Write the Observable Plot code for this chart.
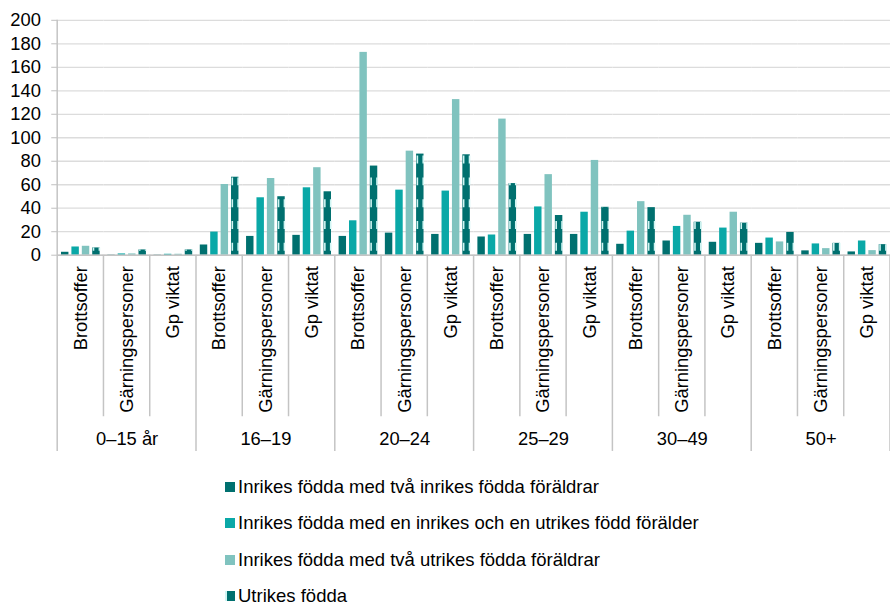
<!DOCTYPE html>
<html><head><meta charset="utf-8">
<script src="https://cdn.jsdelivr.net/npm/d3@7"></script>
<script src="https://cdn.jsdelivr.net/npm/@observablehq/plot@0.6"></script>
<style>
html,body{margin:0;padding:0;background:#fff;overflow:hidden;width:890px;height:605px}
#chart svg{display:block}
#legend{padding-left:225px;padding-top:11px;font-family:"Liberation Sans",Arial,sans-serif;font-size:18.5px;color:#000}
.row{display:flex;align-items:center;height:36.4px;white-space:nowrap}
.sw{width:10px;height:10px;margin-right:3px;flex:none}
</style></head><body><div id="chart"></div><div id="legend"></div>
<script>
const ageGroups = ["0–15 år", "16–19", "20–24", "25–29", "30–49", "50+"];
const subCategories = ["Brottsoffer", "Gärningspersoner", "Gp viktat"];
const seriesNames = [
  "Inrikes födda med två inrikes födda föräldrar",
  "Inrikes födda med en inrikes och en utrikes född förälder",
  "Inrikes födda med två utrikes födda föräldrar",
  "Utrikes födda"
];
// values in order: age group × (Brottsoffer, Gärningspersoner, Gp viktat)
const inrikesTvaInrikes = [2.5, 0.2, 0.2, 8.7, 16.0, 16.9, 16.0, 18.8, 17.7, 15.5, 17.7, 17.7, 9.3, 12.1, 11.0, 10.1, 3.7, 2.8];
const inrikesEnUtrikes  = [7.0, 1.1, 0.8, 19.7, 48.9, 57.4, 29.3, 55.4, 54.6, 17.2, 41.1, 36.6, 20.5, 24.5, 23.1, 14.6, 9.6, 12.1];
const inrikesTvaUtrikes = [7.6, 1.1, 0.8, 60.2, 65.3, 74.5, 172.7, 88.6, 132.5, 115.9, 68.6, 80.7, 45.6, 34.0, 36.6, 11.3, 5.6, 3.9];
const utrikesFodda      = [6.2, 4.5, 4.5, 66.4, 49.8, 54.0, 75.9, 86.1, 85.5, 61.0, 33.8, 40.8, 40.5, 28.1, 27.3, 19.4, 10.1, 9.0];
const yTicks = [0, 20, 40, 60, 80, 100, 120, 140, 160, 180, 200];
const seriesColors = ["#00706F", "#0AA8A7", "#80C3BF", "#00706F"];
const stripeColor = "#D0F5F3";

const seriesValues = [inrikesTvaInrikes, inrikesEnUtrikes, inrikesTvaUtrikes, utrikesFodda];
const keys = [];
const subRows = [];
const ageRows = [];
const rows = [];
ageGroups.forEach((age, a) => {
  subCategories.forEach((sub, s) => {
    const key = age + "|" + sub;
    const i = a * subCategories.length + s;
    keys.push(key);
    subRows.push({key, sub});
    if (s === 1) ageRows.push({key, age});
    seriesNames.forEach((name, k) => rows.push({key, series: name, value: seriesValues[k][i]}));
  });
});
const utrikesRows = rows.filter(d => d.series === seriesNames[3]);

const font = '"Liberation Sans", Arial, sans-serif';
const stripe = {fx: "key", x: "series", y1: 0, y2: "value", stroke: stripeColor, strokeWidth: 1.6, strokeDasharray: "8 14", strokeDashoffset: -4};

const plot = Plot.plot({
  width: 898, height: 462,
  marginLeft: 57.7, marginRight: 0, marginTop: 20, marginBottom: 205,
  style: {fontFamily: font, fontSize: "18.5px", color: "#000", background: "#fff", overflow: "visible"},
  fx: {domain: keys, padding: 0, axis: null, round: false},
  x: {domain: seriesNames, paddingInner: 0.2857, paddingOuter: 0.365, axis: null, round: false},
  y: {domain: [0, 200], axis: null},
  color: {domain: seriesNames, range: seriesColors},
  marks: [
    Plot.gridY(yTicks, {stroke: "#dcdcdc", strokeOpacity: 1, strokeWidth: 1.3}),
    Plot.axisY(yTicks, {label: null, tickSize: 6, tickPadding: 11, stroke: "#bfbfbf", fill: "#000", fontSize: 18.5}),
    Plot.barY(rows, {fx: "key", x: "series", y: "value", fill: "series"}),
    // dashed light edges of the "Utrikes födda" bars
    Plot.ruleX(utrikesRows, {...stripe, dx: -2.95}),
    Plot.ruleX(utrikesRows, {...stripe, dx: 2.95}),
    Plot.ruleY([0], {stroke: "#c4c4c4", strokeWidth: 1.5}),
    Plot.text(subRows, {fx: "key", text: "sub", frameAnchor: "bottom", rotate: -90, textAnchor: "end", lineAnchor: "middle", dy: 11, fill: "#000"}),
    Plot.text(ageRows, {fx: "key", text: "age", frameAnchor: "bottom", lineAnchor: "middle", dy: 186, fill: "#000"})
  ]
});

const svg = plot.tagName.toLowerCase() === "svg" ? plot : plot.querySelector("svg");
const fxs = plot.scale("fx");
const ys = plot.scale("y");

// category separators, positioned with the plot's own fx / y scales
const sep = d3.select(svg).append("g").attr("stroke", "#c4c4c4").attr("stroke-width", 1.5);
const y0 = ys.apply(0);
keys.forEach((k, i) => {
  const x0 = fxs.apply(k);
  const isGroup = i % subCategories.length === 0;
  sep.append("line").attr("x1", x0).attr("x2", x0)
    .attr("y1", i === 0 ? ys.apply(200) : y0)
    .attr("y2", isGroup ? y0 + 198 : y0 + 163);
});
const lastX = fxs.apply(keys[keys.length - 1]) + fxs.bandwidth;
sep.append("line").attr("x1", lastX).attr("x2", lastX).attr("y1", y0).attr("y2", y0 + 198);

document.getElementById("chart").appendChild(plot);

// legend
const legend = d3.select("#legend");
seriesNames.forEach((name, k) => {
  const row = legend.append("div").attr("class", "row");
  const sw = row.append("div").attr("class", "sw");
  if (k === 3) sw.style("background", `linear-gradient(to right, ${stripeColor} 0 2.5px, ${seriesColors[3]} 2.5px)`);
  else sw.style("background", seriesColors[k]);
  row.append("span").text(name);
});
</script></body></html>
